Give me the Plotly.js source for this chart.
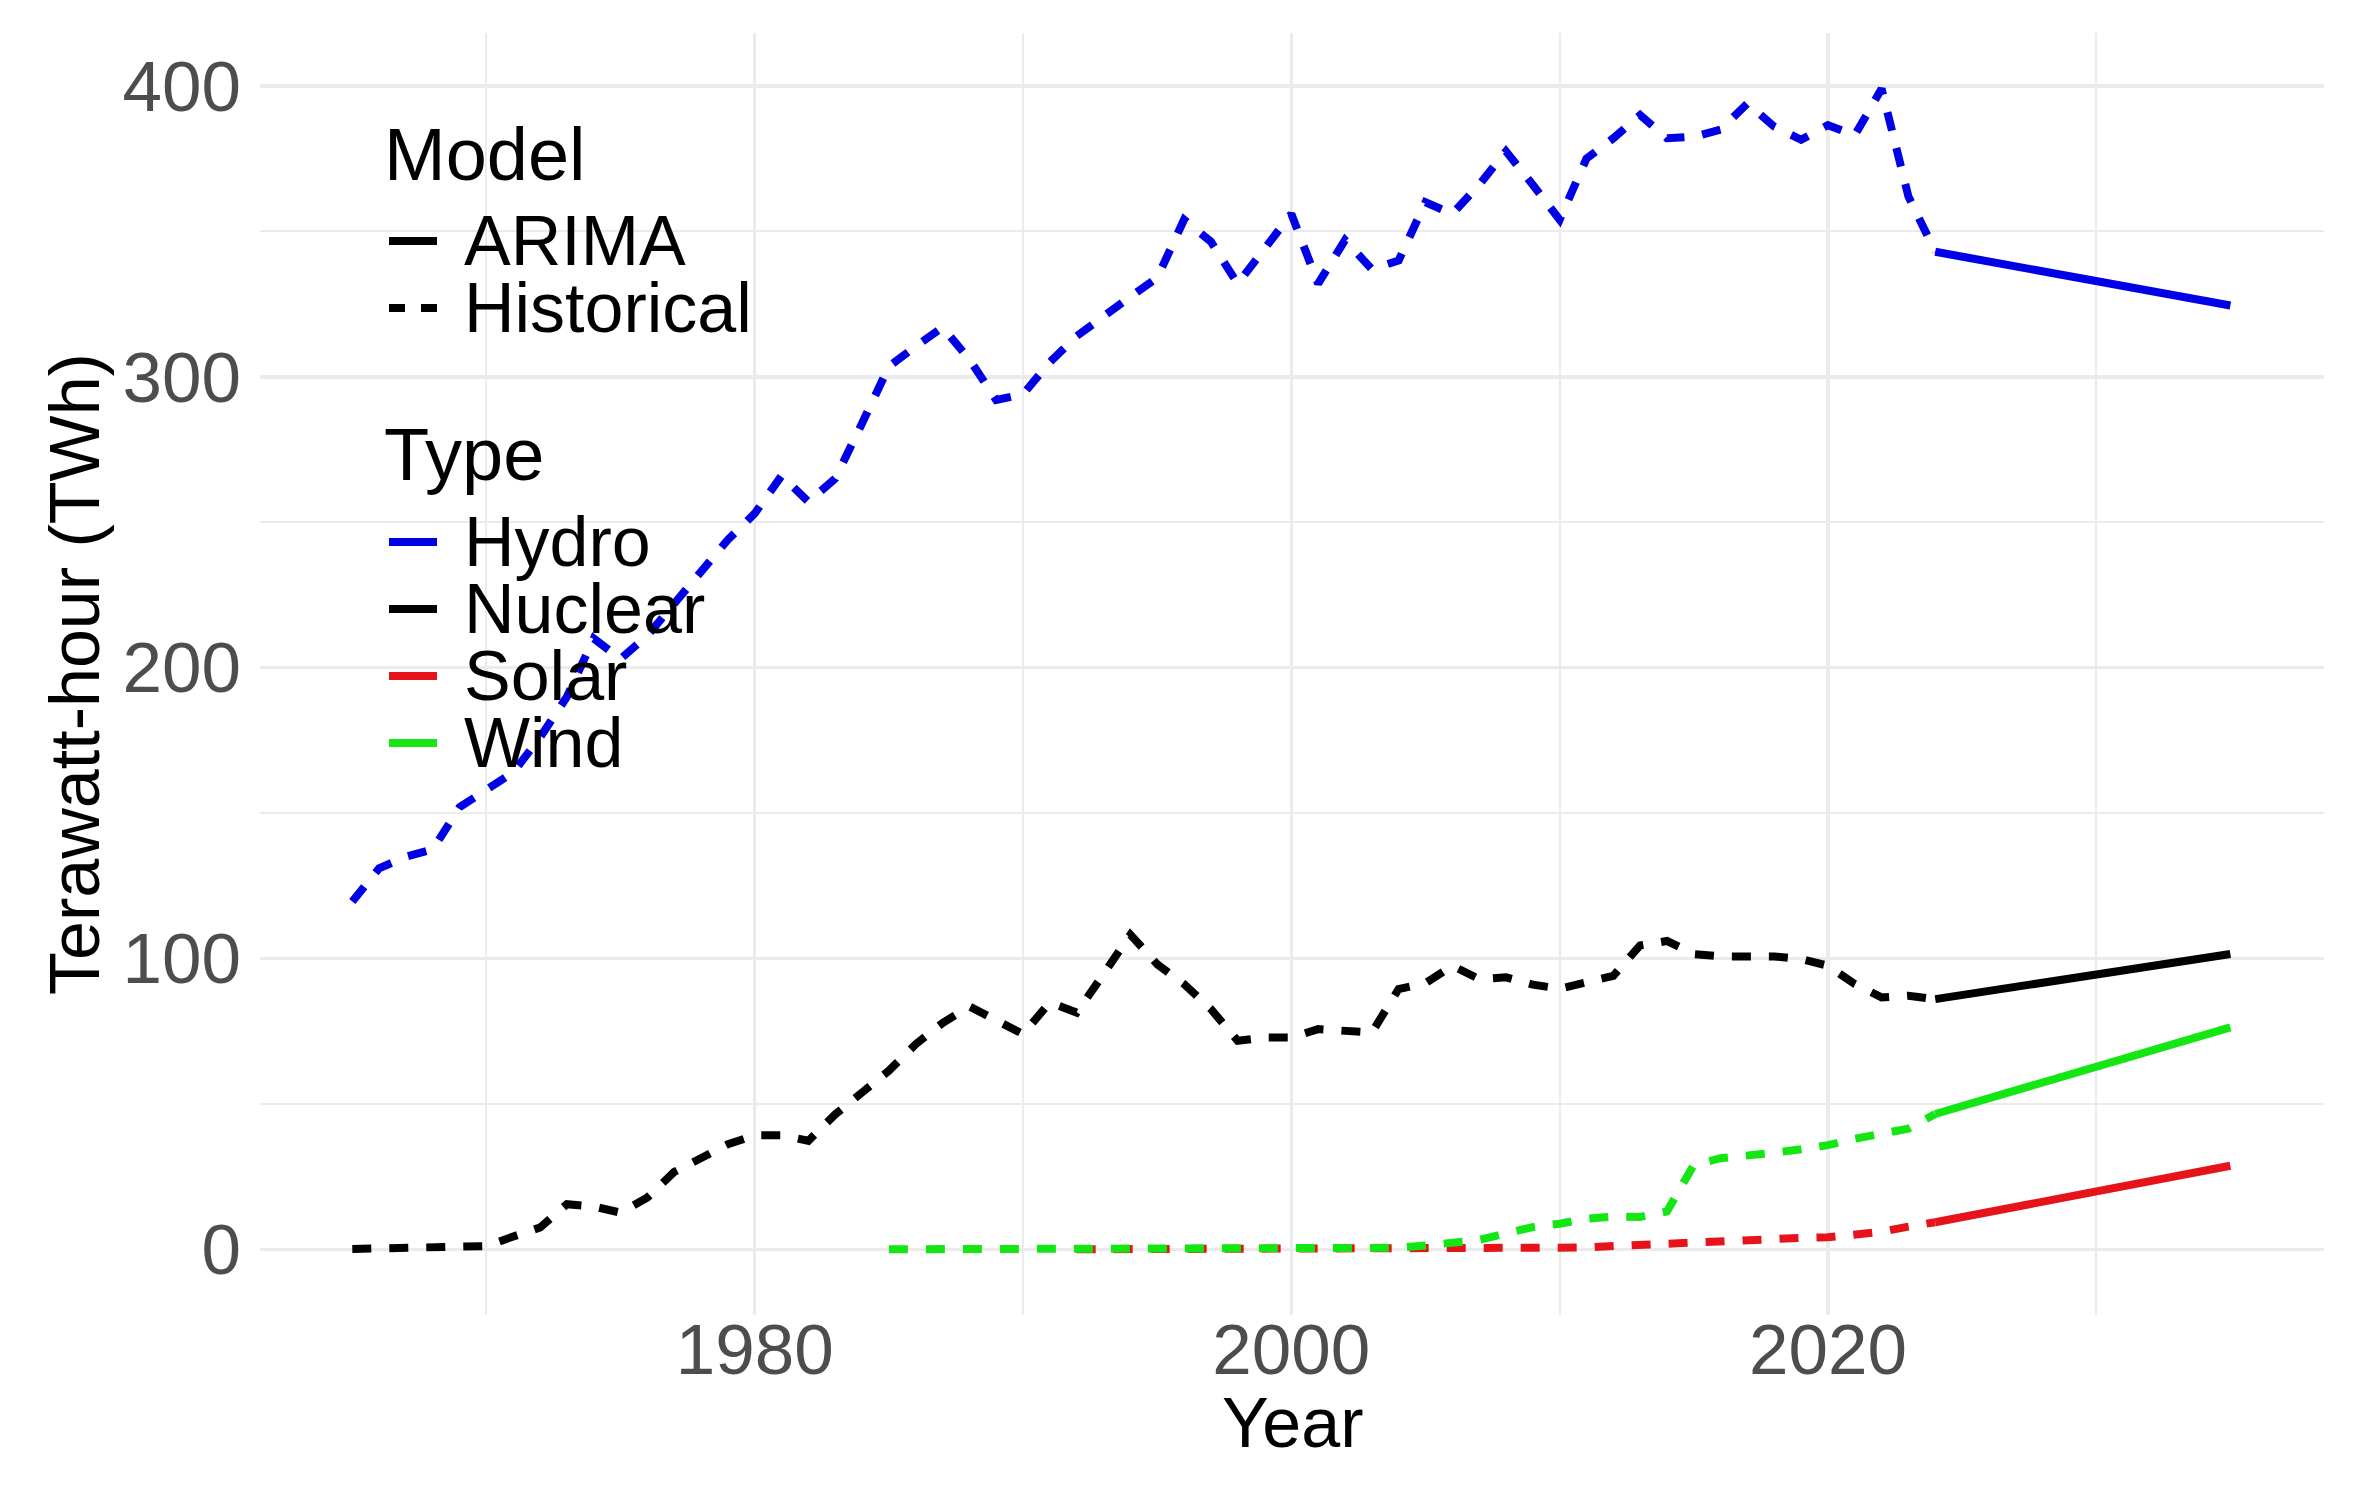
<!DOCTYPE html>
<html>
<head>
<meta charset="utf-8">
<script src="https://cdn.plot.ly/plotly-3.0.1.min.js"></script>
<style>
  html, body { margin: 0; padding: 0; background: #ffffff; }
  #chart { width: 2356px; height: 1497px; }
</style>
</head>
<body>
<div id="chart"></div>
<script>
// ---------------- DATA ----------------
const histYears = [1965,1966,1967,1968,1969,1970,1971,1972,1973,1974,
                   1975,1976,1977,1978,1979,1980,1981,1982,1983,1984,
                   1985,1986,1987,1988,1989,1990,1991,1992,1993,1994,
                   1995,1996,1997,1998,1999,2000,2001,2002,2003,2004,
                   2005,2006,2007,2008,2009,2010,2011,2012,2013,2014,
                   2015,2016,2017,2018,2019,2020,2021,2022,2023,2024];

const hydroHist = [119.6,131,135,137.5,152,158,164,176,190,210,
                   203,211,222,234,244,253,266,257,265,284,
                   303.5,310.5,317,306,292,294,305,314,321,327.5,
                   334,354,346.5,332,344,356,332,347,337,340,
                   360,356,366,377.5,366,354,375,382,390,382,
                   382.5,385,394,386,381.5,386.5,383,399,362,343];

const nuclearHist = [0.1,0.2,0.2,0.3,0.5,1.1,4.4,7.5,15.5,14.7,
                     12.6,17.8,26.6,31.5,36.1,39.2,39.2,37.3,46.4,53.9,
                     61.4,70.5,77.8,83.5,79,74,84.9,81.4,94.6,108.2,
                     98,91.2,82.6,71.7,72.8,72.8,75.7,75.2,74.5,89.5,
                     91.5,97.5,92.9,93.5,91,89.6,92,94,104.5,106,
                     101.5,100.7,100.7,100.7,99.8,97.5,91.2,86.6,87.2,86];

const windYears = [1985,1986,1987,1988,1989,1990,1991,1992,1993,1994,
                   1995,1996,1997,1998,1999,2000,2001,2002,2003,2004,
                   2005,2006,2007,2008,2009,2010,2011,2012,2013,2014,
                   2015,2016,2017,2018,2019,2020,2021,2022,2023,2024];
const windHist = [0,0,0,0,0,0,0,0,0,0,
                  0,0,0,0,0,0,0,0,0.2,0.5,
                  1.3,2.2,3.2,5.5,7.6,8.8,10.5,11.2,11.1,13,
                  29,31.3,32.1,33.2,34.4,35.8,38,40.1,41.5,46.5];

const solarYears = [1992,1993,1994,1995,1996,1997,1998,1999,2000,2001,
                    2002,2003,2004,2005,2006,2007,2008,2009,2010,2011,
                    2012,2013,2014,2015,2016,2017,2018,2019,2020,2021,
                    2022,2023,2024];
const solarHist = [0,0,0,0,0,0,0,0,0,0,
                   0,0,0,0,0,0,0,0.1,0.2,0.6,
                   1.1,1.5,2.2,2.8,3.0,3.2,3.6,3.9,4.1,4.8,
                   6.0,7.8,9.3];

const forecastYears = [2024, 2035];
const hydroArima   = [343, 324.5];
const nuclearArima = [86, 101.5];
const solarArima   = [9.3, 28.7];
const windArima    = [46.5, 76.3];

const typeNames  = ['Hydro', 'Nuclear', 'Solar', 'Wind'];
const modelNames = ['ARIMA', 'Historical'];
const xTitle = 'Year';
const yTitle = 'Terawatt-hour (TWh)';

// ---------------- STYLE ----------------
const COLORS = { Hydro: '#0000E6', Nuclear: '#000000', Solar: '#E6141A', Wind: '#14E614' };
const LW = 8;
const DASH = '19px,18px';
const FONT = '"Liberation Sans", Arial, Helvetica, sans-serif';

const W = 2356, H = 1497;
const M = { l: 260, r: 32, t: 33, b: 182 };
const pw = W - M.l - M.r, ph = H - M.t - M.b;
const px2x = p => (p - M.l) / pw;
const py2y = p => 1 - (p - M.t) / ph;

function line(name, x, y, dash) {
  return {
    type: 'scatter', mode: 'lines', name: name, x: x, y: y,
    line: { color: COLORS[name], width: LW, dash: dash },
    showlegend: false, hoverinfo: 'x+y+name'
  };
}

const traces = [
  line('Hydro',   histYears,  hydroHist,   DASH),
  line('Nuclear', histYears,  nuclearHist, DASH),
  line('Solar',   solarYears, solarHist,   DASH),
  line('Wind',    windYears,  windHist,    DASH),
  line('Hydro',   forecastYears, hydroArima,   'solid'),
  line('Nuclear', forecastYears, nuclearArima, 'solid'),
  line('Solar',   forecastYears, solarArima,   'solid'),
  line('Wind',    forecastYears, windArima,    'solid')
];

// ---------------- LEGEND (two guides, drawn as text + key lines) ----------------
const legendTitles = [
  { text: 'Model', y: 154 },
  { text: 'Type',  y: 454 }
];
const legendItems = [
  { text: modelNames[0], y: 241, color: '#000000', dash: 'solid' },
  { text: modelNames[1], y: 308, color: '#000000', dash: '16px,16px' },
  { text: typeNames[0],  y: 542, color: COLORS.Hydro,   dash: 'solid' },
  { text: typeNames[1],  y: 609, color: COLORS.Nuclear, dash: 'solid' },
  { text: typeNames[2],  y: 676, color: COLORS.Solar,   dash: 'solid' },
  { text: typeNames[3],  y: 743, color: COLORS.Wind,    dash: 'solid' }
];

const annotations = [];
const shapes = [];
legendTitles.forEach(t => annotations.push({
  xref: 'paper', yref: 'paper', x: px2x(382), y: py2y(t.y),
  xanchor: 'left', yanchor: 'middle', showarrow: false,
  text: t.text, font: { family: FONT, size: 74, color: '#000000' }
}));
legendItems.forEach(it => {
  annotations.push({
    xref: 'paper', yref: 'paper', x: px2x(462), y: py2y(it.y),
    xanchor: 'left', yanchor: 'middle', showarrow: false,
    text: it.text, font: { family: FONT, size: 70, color: '#000000' }
  });
  shapes.push({
    type: 'line', xref: 'paper', yref: 'paper',
    x0: px2x(389), x1: px2x(437), y0: py2y(it.y), y1: py2y(it.y),
    line: { color: it.color, width: LW, dash: it.dash }
  });
});

// x-axis title placed as a paper annotation below the tick labels
annotations.push({
  xref: 'paper', yref: 'paper', x: 0.5, y: py2y(1423),
  xanchor: 'center', yanchor: 'middle', showarrow: false,
  text: xTitle, font: { family: FONT, size: 70, color: '#000000' }
});

// ---------------- LAYOUT ----------------
const GRID = '#EBEBEB';
const layout = {
  width: W, height: H,
  margin: M,
  paper_bgcolor: '#ffffff', plot_bgcolor: '#ffffff',
  font: { family: FONT, size: 70, color: '#000000' },
  showlegend: false,
  xaxis: {
    range: [1961.56, 2038.49],
    tickmode: 'linear', tick0: 1980, dtick: 20,
    showgrid: true, gridcolor: GRID, gridwidth: 3.5,
    minor: { tick0: 1970, dtick: 10, showgrid: true, gridcolor: GRID, gridwidth: 2 },
    zeroline: false, showline: false, ticks: '',
    tickfont: { family: FONT, size: 71, color: '#4D4D4D' },
    ticklabelstandoff: -13,
    automargin: false
  },
  yaxis: {
    range: [-22.6, 418.2],
    tickmode: 'linear', tick0: 0, dtick: 100,
    showgrid: true, gridcolor: GRID, gridwidth: 3.5,
    minor: { tick0: 0, dtick: 50, showgrid: true, gridcolor: GRID, gridwidth: 2 },
    zeroline: false, showline: false, ticks: '',
    tickfont: { family: FONT, size: 71, color: '#4D4D4D' },
    ticklabelstandoff: 18,
    title: { text: yTitle, font: { family: FONT, size: 70, color: '#000000' }, standoff: 0 },
    automargin: false
  },
  annotations: annotations,
  shapes: shapes
};

Plotly.newPlot('chart', traces, layout, { displayModeBar: false, responsive: false, staticPlot: true });
</script>
</body>
</html>
